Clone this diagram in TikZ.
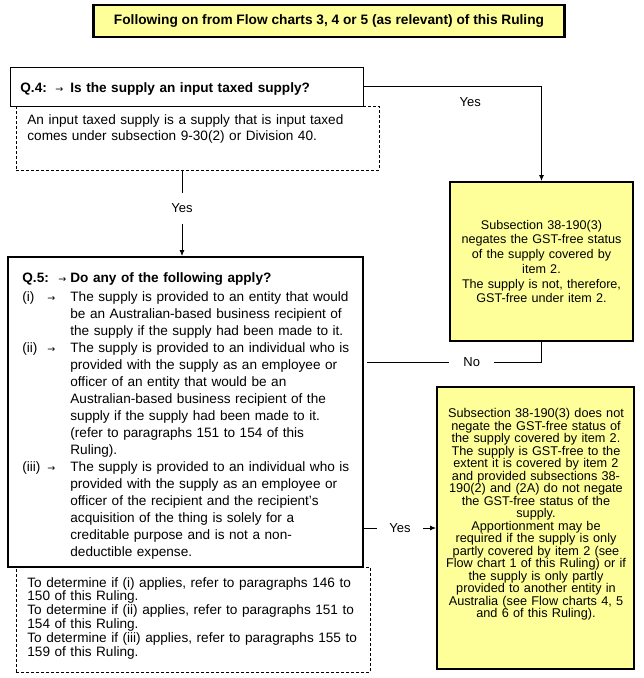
\documentclass[tikz,border=0pt]{standalone}
\usepackage{fontspec}
\setmainfont{Liberation Sans}
\newfontfamily\arrowfont{DejaVu Sans}
\usetikzlibrary{arrows.meta,positioning}
\definecolor{rulingyellow}{HTML}{FFFF99}
\newcommand{\qarrow}{{\arrowfont\fontsize{9.5pt}{9.5pt}\selectfont →}}
\newcommand{\bodysize}{\fontsize{13.6pt}{17pt}\selectfont}

\begin{document}
\begin{tikzpicture}[x=1pt, y=-1pt, line width=0.8pt, >={Latex[length=6pt,width=5pt]},
	yellowbox/.style={draw, line width=2pt, fill=rulingyellow, inner sep=0pt},
	qbox/.style={draw, fill=white},
	notebox/.style={draw, dash pattern=on 3pt off 2pt},
	lbl/.style={font=\fontsize{13pt}{15pt}\selectfont, fill=white},
	boxtext/.style={anchor=base west, inner sep=0pt, align=left}]
	\useasboundingbox (0,0) rectangle (644,678);
	
	\node[notebox, minimum width=363pt, minimum height=64pt] (note4) at (197.5,138) {};
	\node[notebox, minimum width=354pt, minimum height=105pt] (note5) at (193,619.5) {};
	\node[qbox, minimum width=353pt, minimum height=39pt] (q4) at (186.5,86.5) {};
	\node[qbox, line width=2pt, minimum width=355pt, minimum height=310pt] (q5) at (185.5,412) {};
	
	\node[yellowbox, line width=2.5pt, minimum width=471pt, minimum height=32pt, font=\bfseries\fontsize{13.7pt}{16pt}\selectfont] (title) at (329,21) {Following on from Flow charts 3, 4 or 5 (as relevant) of this Ruling};
	\node[yellowbox, minimum width=183pt, minimum height=159pt, text width=180pt, align=center, font=\fontsize{12.6pt}{14.7pt}\selectfont] (yes1) at (541.5,261.5) {Subsection 38-190(3)\\ negates the GST-free status\\ of the supply covered by\\ item 2.\\ The supply is not, therefore,\\ GST-free under item 2.};
	\node[yellowbox, minimum width=197pt, minimum height=282pt] (yes2) at (535.5,528) {};
	
	\node[boxtext, text width=330pt, font=\bodysize] (q4text) at (20,92) {\makebox[35pt][l]{\textbf{Q.4:}}\makebox[15pt][l]{\qarrow}\textbf{Is the supply an input taxed supply?}};
	\node[boxtext, text width=350pt, font=\fontsize{13.6pt}{16pt}\selectfont] (note4text) at (27,124) {An input taxed supply is a supply that is input taxed\\ comes under subsection 9-30(2) or Division 40.};
	\node[boxtext, text width=340pt, font=\bodysize] (q5text) at (22,282) {\makebox[36pt][l]{\textbf{Q.5:}}\makebox[12pt][l]{\qarrow}\textbf{Do any of the following apply?}\\[2pt]
		\makebox[25pt][l]{(i)}\makebox[23pt][l]{\qarrow}The supply is provided to an entity that would\\
		\hspace*{48pt}be an Australian-based business recipient of\\
		\hspace*{48pt}the supply if the supply had been made to it.\\
		\makebox[25pt][l]{(ii)}\makebox[23pt][l]{\qarrow}The supply is provided to an individual who is\\
		\hspace*{48pt}provided with the supply as an employee or\\
		\hspace*{48pt}officer of an entity that would be an\\
		\hspace*{48pt}Australian-based business recipient of the\\
		\hspace*{48pt}supply if the supply had been made to it.\\
		\hspace*{48pt}(refer to paragraphs 151 to 154 of this\\
		\hspace*{48pt}Ruling).\\
		\makebox[25pt][l]{(iii)}\makebox[23pt][l]{\qarrow}The supply is provided to an individual who is\\
		\hspace*{48pt}provided with the supply as an employee or\\
		\hspace*{48pt}officer of the recipient and the recipient’s\\
		\hspace*{48pt}acquisition of the thing is solely for a\\
		\hspace*{48pt}creditable purpose and is not a non-\\
		\hspace*{48pt}deductible expense.};
	\node[boxtext, text width=345pt, font=\fontsize{13.6pt}{13.8pt}\selectfont] (note5text) at (27,587) {To determine if (i) applies, refer to paragraphs 146 to\\ 150 of this Ruling.\\ To determine if (ii) applies, refer to paragraphs 151 to\\ 154 of this Ruling.\\ To determine if (iii) applies, refer to paragraphs 155 to\\ 159 of this Ruling.};
	\node[anchor=base, inner sep=0pt, text width=196pt, align=center, font=\fontsize{12.7pt}{12.5pt}\selectfont] (yes2text) at (536,417.5) {Subsection 38-190(3) does not\\ negate the GST-free status of\\ the supply covered by item 2.\\ The supply is GST-free to the\\ extent it is covered by item 2\\ and provided subsections 38-\\ 190(2) and (2A) do not negate\\ the GST-free status of the\\ supply.\\ Apportionment may be\\ required if the supply is only\\ partly covered by item 2 (see\\ Flow chart 1 of this Ruling) or if\\ the supply is only partly\\ provided to another entity in\\ Australia (see Flow charts 4, 5\\ and 6 of this Ruling).};
	
	\coordinate (yesdown) at ([xshift=-3.5pt]q5.north);
	\coordinate (nojoin) at (367,362);
	
	\draw[->] (q4.east) -| node[lbl, fill=none, pos=0.3, below=7pt] {Yes} (yes1.north);
	\draw[->] (note4.south -| yesdown) -- node[lbl, pos=0.44, inner ysep=11pt] {Yes} (yesdown);
	\draw (yes1.south) |- node[lbl, pos=0.7, inner xsep=14pt] {No} (nojoin);
	\draw[->] (q5.east |- yes2.west) -- node[lbl, inner xsep=12pt] {Yes} (yes2.west);
\end{tikzpicture}
\end{document}
